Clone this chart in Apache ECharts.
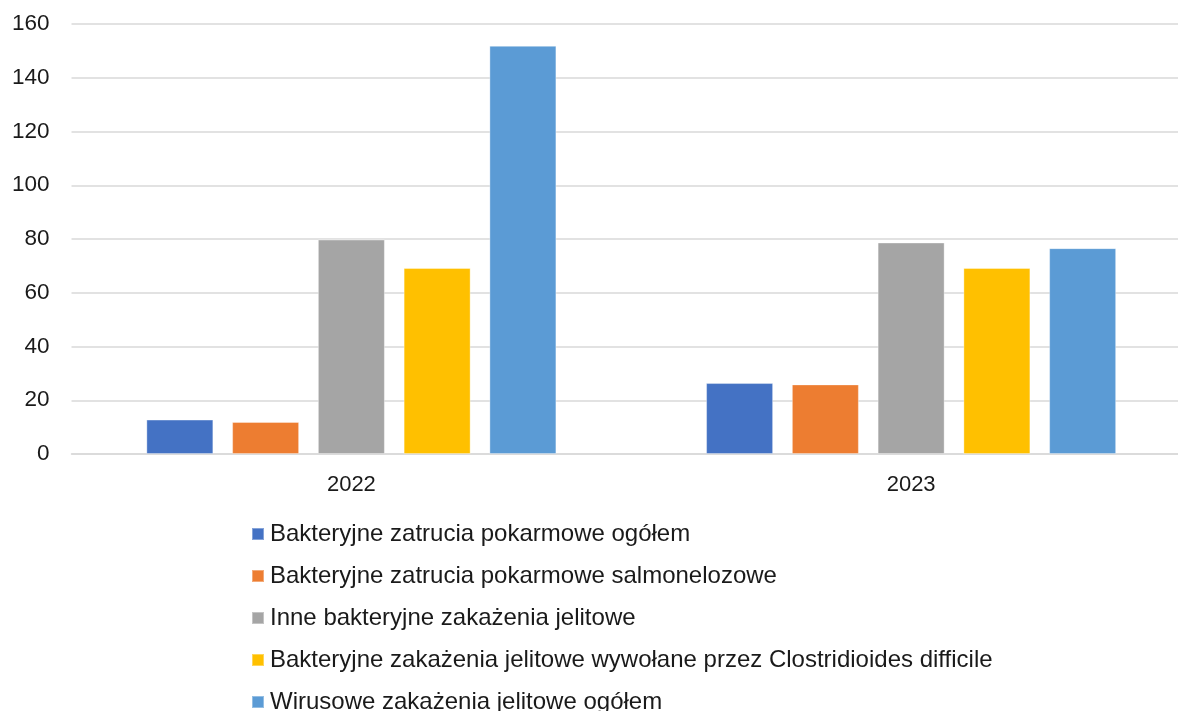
<!DOCTYPE html>
<html>
<head>
<meta charset="utf-8">
<script src="https://cdn.jsdelivr.net/npm/echarts@6/dist/echarts.min.js"></script>
<style>
  html, body { margin: 0; padding: 0; background: #fff; overflow: hidden; }
  #chart { width: 1191px; height: 711px; }
</style>
</head>
<body>
<div id="chart"></div>
<script>
// lata
const years = ["2022", "2023"];
// serie
const seriesNames = [
  "Bakteryjne zatrucia pokarmowe ogółem",
  "Bakteryjne zatrucia pokarmowe salmonelozowe",
  "Inne bakteryjne zakażenia jelitowe",
  "Bakteryjne zakażenia jelitowe wywołane przez Clostridioides difficile",
  "Wirusowe zakażenia jelitowe ogółem"
];
const ogolem = [12.8, 26.4];
const salmonella = [11.9, 25.9];
const inne = [79.8, 78.7];
const clostridioides = [69.2, 69.2];
const wirusowe = [151.9, 76.6];
const colors = ["#4472C4", "#ED7D31", "#A5A5A5", "#FFC000", "#5B9BD5"];

const values = [ogolem, salmonella, inne, clostridioides, wirusowe];

// div is a bit wider than the window, the plot runs past the right edge like in the original
const chart = echarts.init(document.getElementById("chart"));

const option = {
  animation: false,
  textStyle: { fontFamily: "Liberation Sans, Arial, sans-serif" },
  grid: {
    left: 71.5,
    right: 0,
    top: 24,
    height: 430,
    containLabel: false,
  },
  legend: {
    orient: "vertical",
    left: 246,
    top: 517,
    height: 400,
    itemWidth: 12,
    itemHeight: 12,
    itemGap: 18,
    icon: "rect",
    data: seriesNames,
    textStyle: {
      fontSize: 24,
      color: "#1a1a1a",
      lineHeight: 24,
      padding: [0, 0, 0, 1],
    },
  },
  xAxis: {
    type: "category",
    data: years,
    axisTick: { show: false },
    axisLine: { lineStyle: { color: "#d9d9d9", width: 1.5 } },
    axisLabel: { fontSize: 22, color: "#1a1a1a", margin: 20 },
  },
  yAxis: {
    type: "value",
    min: 0,
    max: 160,
    interval: 20,
    axisLine: { show: false },
    axisTick: { show: false },
    axisLabel: { fontSize: 22.5, color: "#1a1a1a", margin: 22 },
    splitLine: { lineStyle: { color: "#d9d9d9", width: 1.5 } },
  },
  series: seriesNames.map((name, i) => ({
    name: name,
    type: "bar",
    data: values[i],
    barWidth: 67,
    barGap: "28%",
    itemStyle: {
      color: colors[i],
      borderColor: "rgba(255,255,255,0.35)",
      borderWidth: 1,
    },
  })),
};

chart.setOption(option);
</script>
</body>
</html>
